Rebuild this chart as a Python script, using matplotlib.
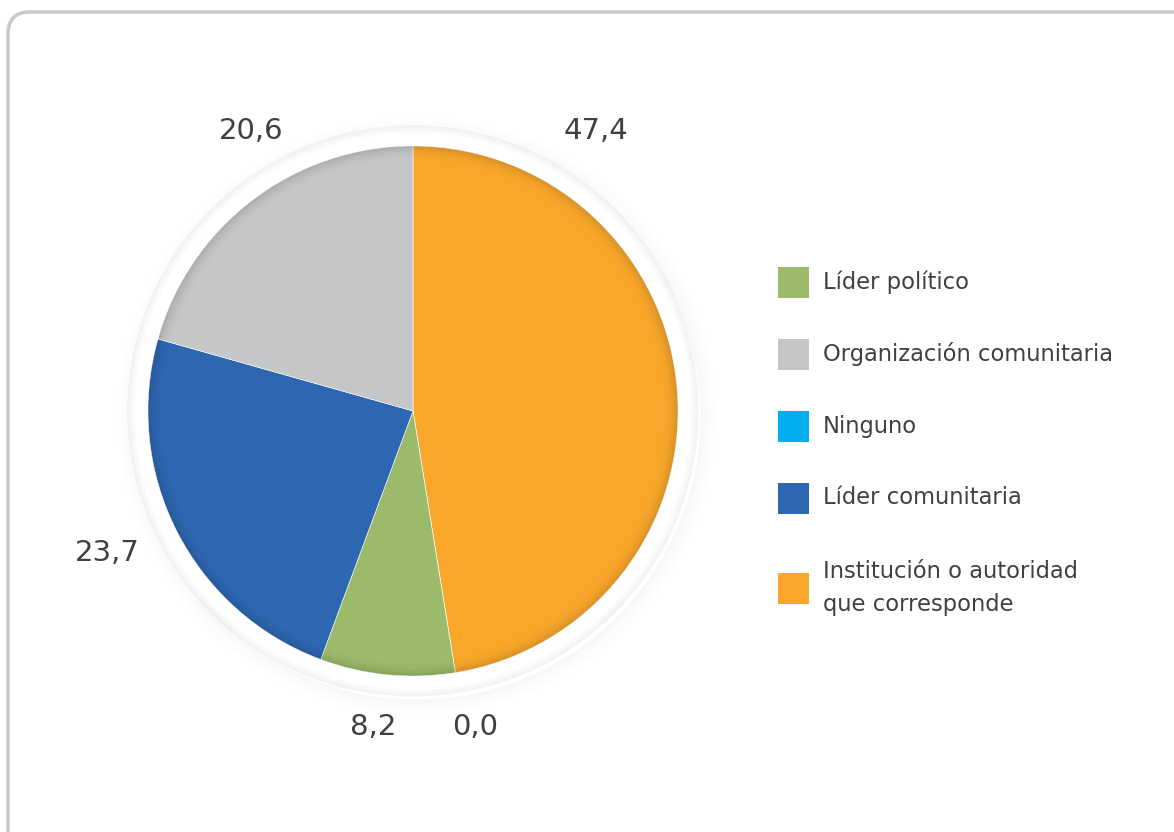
import matplotlib
matplotlib.use("Agg")
import matplotlib.pyplot as plt
from matplotlib.patches import Wedge, Circle, Rectangle, FancyBboxPatch

# categories in legend order
categorias = ["Líder político", "Organización comunitaria", "Ninguno",
              "Líder comunitaria", "Institución o autoridad\nque corresponde"]
valores = [8.2, 20.6, 0.0, 23.7, 47.4]
colores = ["#9BBB6A", "#C5C6C8", "#00AEEF", "#2E67B1", "#F8A72B"]
# slice order clockwise from 12 o'clock
orden_pie = [4, 2, 0, 3, 1]
# where each value label sits (pixel coords, same order as categorias)
pos_etiquetas = [(373, 727), (251, 131), (475, 727), (107, 553), (596, 131)]

W, H = 1174, 832
fig = plt.figure(figsize=(W / 100, H / 100), dpi=100)
ax = fig.add_axes([0, 0, 1, 1])
ax.set_xlim(0, W)
ax.set_ylim(0, H)
ax.set_aspect("equal")
ax.axis("off")

texto = "#404040"
plt.rcParams["font.family"] = ["DejaVu Sans"]

# card border
ax.add_patch(FancyBboxPatch((8, -40), W + 20, H - 12 + 40,
                            boxstyle="round,pad=0,rounding_size=22",
                            fc="white", ec="#C9C9C9", lw=2.5, zorder=0))

cx, cy, R = 413, H - 411, 265

# soft shadow and white rim around the pie
for i in range(18):
    a = 0.02 * ((18 - i) / 18) ** 1.5
    ax.add_patch(Circle((cx + 4, cy - 5), R + 19 + i, fc="none",
                        ec="black", lw=1.2, alpha=a, zorder=1))
ax.add_patch(Circle((cx, cy), R + 20, fc="white", ec="none", zorder=2))
for i in range(8):
    ax.add_patch(Circle((cx, cy), R + 20 - i, fc="none", ec="black",
                        lw=1, alpha=0.005 * (8 - i), zorder=2))

vals = [valores[i] for i in orden_pie]
cols = [colores[i] for i in orden_pie]
wedges, _ = ax.pie(vals, colors=cols, startangle=90, counterclock=False,
                   center=(cx, cy), radius=R, frame=True,
                   wedgeprops=dict(edgecolor="white", linewidth=0.4))
for w in wedges:
    w.set_zorder(3)

# darkened rim inside the pie
n = 14
for i in range(n):
    ax.add_patch(Wedge((cx, cy), R - i, 0, 360, width=1.0, fc="black",
                       ec="none", alpha=0.13 * ((n - i) / n) ** 2, zorder=4))

ax.set_xlim(0, W)
ax.set_ylim(0, H)
ax.axis("off")

# value labels
for v, (px, py) in zip(valores, pos_etiquetas):
    ax.text(px, H - py, f"{v:.1f}".replace(".", ","), ha="center",
            va="center", fontsize=21, color=texto, zorder=5)

# legend
filas = [282, 354, 426, 498, 588]
for cat, col, fy in zip(categorias, colores, filas):
    ax.add_patch(Rectangle((778, H - fy - 15.5), 31, 31, fc=col, ec="none",
                           zorder=5))
    ax.text(823, H - fy, cat, ha="left", va="center", fontsize=16.3,
            color=texto, linespacing=1.5, zorder=5)

fig.savefig("out.png", dpi=100, facecolor="white")
